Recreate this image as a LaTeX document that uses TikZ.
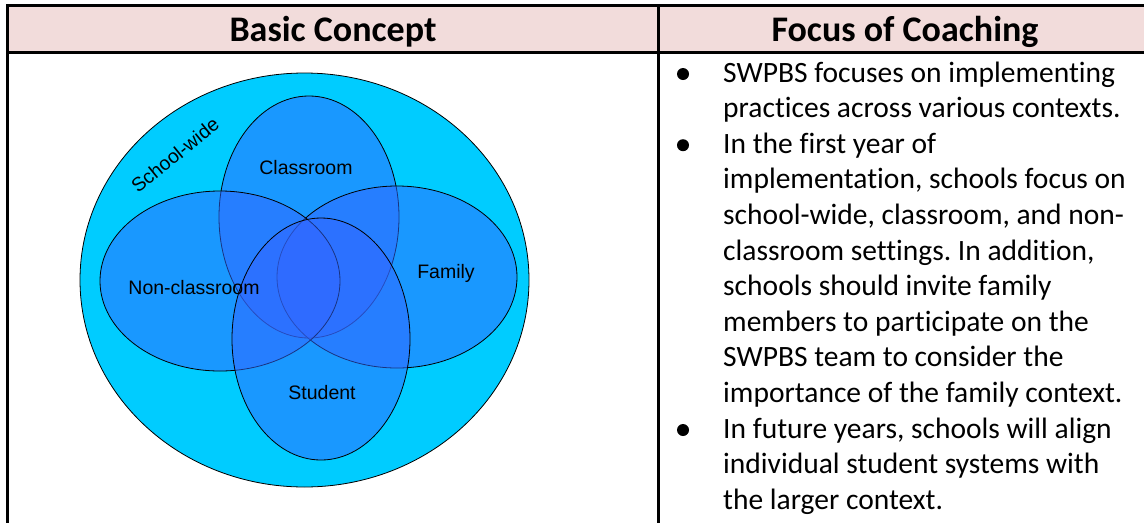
\documentclass[tikz,border=0pt]{standalone}
\usepackage{fontspec}
\setmainfont{Carlito}[Ligatures=NoCommon]
\newfontfamily\arialfont{Liberation Sans}
\usetikzlibrary{positioning}
\definecolor{headpink}{HTML}{F2DCDB}
\definecolor{schoolcyan}{HTML}{00CCFF}
\definecolor{contextblue}{HTML}{3366FF}
\frenchspacing

\begin{document}
\begin{tikzpicture}[x=1pt,y=-1pt,
    ring/.style={draw=black, line width=0.8pt, fill=contextblue, fill opacity=0.5},
    ringlabel/.style={font=\arialfont\fontsize{19.5}{22}\selectfont, inner sep=0pt},
    headtext/.style={font=\bfseries\fontsize{36}{40}\selectfont, inner sep=0pt, anchor=base},
    bodytext/.style={font=\fontsize{29.5}{35.6}\selectfont, inner sep=0pt, anchor=base west}]
    \useasboundingbox (0,0) rectangle (1144,523);
    % Table header and rules
    \fill[headpink] (7,5) rectangle (1144,52);
    \draw[line width=3pt] (1144,5) -- (7,5) -- (7,523);
    \draw[line width=3pt] (7,52) -- (1144,52);
    \draw[line width=3pt] (658,5) -- (658,523);
    \node[headtext] (headleft) at (333,41) {Basic Concept};
    \node[headtext] (headright) at (905,41) {Focus of Coaching};
    % School-wide circle with overlapping contexts
    \draw[fill=schoolcyan, line width=0.8pt] (304.5,280) ellipse [x radius=224.5, y radius=207];
    \draw[ring] (309,217) ellipse [x radius=90, y radius=121];
    \draw[ring] (397,277) ellipse [x radius=120, y radius=91];
    \draw[ring] (220,281) ellipse [x radius=120, y radius=90];
    \draw[ring] (321,339) ellipse [x radius=89, y radius=121];
    \node[ringlabel, rotate=39] (schoolwide) at (175,155) {School-wide};
    \node[ringlabel] (classroom) at (306,168) {Classroom};
    \node[ringlabel] (nonclassroom) at (194,288) {Non-classroom};
    \node[ringlabel] (family) at (446,273) {Family};
    \node[ringlabel] (student) at (322,393) {Student};
    % Bullet list
    \foreach \k in {0,2,10}
      \fill (683,82+35.6*\k-8) circle (6);
    \foreach \txt [count=\i] in {SWPBS focuses on implementing,
        practices across various contexts.,
        In the first year of,
        {implementation, schools focus on},
        {school-wide, classroom, and non-},
        {classroom settings. In addition,},
        schools should invite family,
        members to participate on the,
        SWPBS team to consider the,
        importance of the family context.,
        {In future years, schools will align},
        individual student systems with,
        the larger context.}
      \node[bodytext] (line\i) at (723,82+35.6*\i-35.6) {\txt};
\end{tikzpicture}
\end{document}
